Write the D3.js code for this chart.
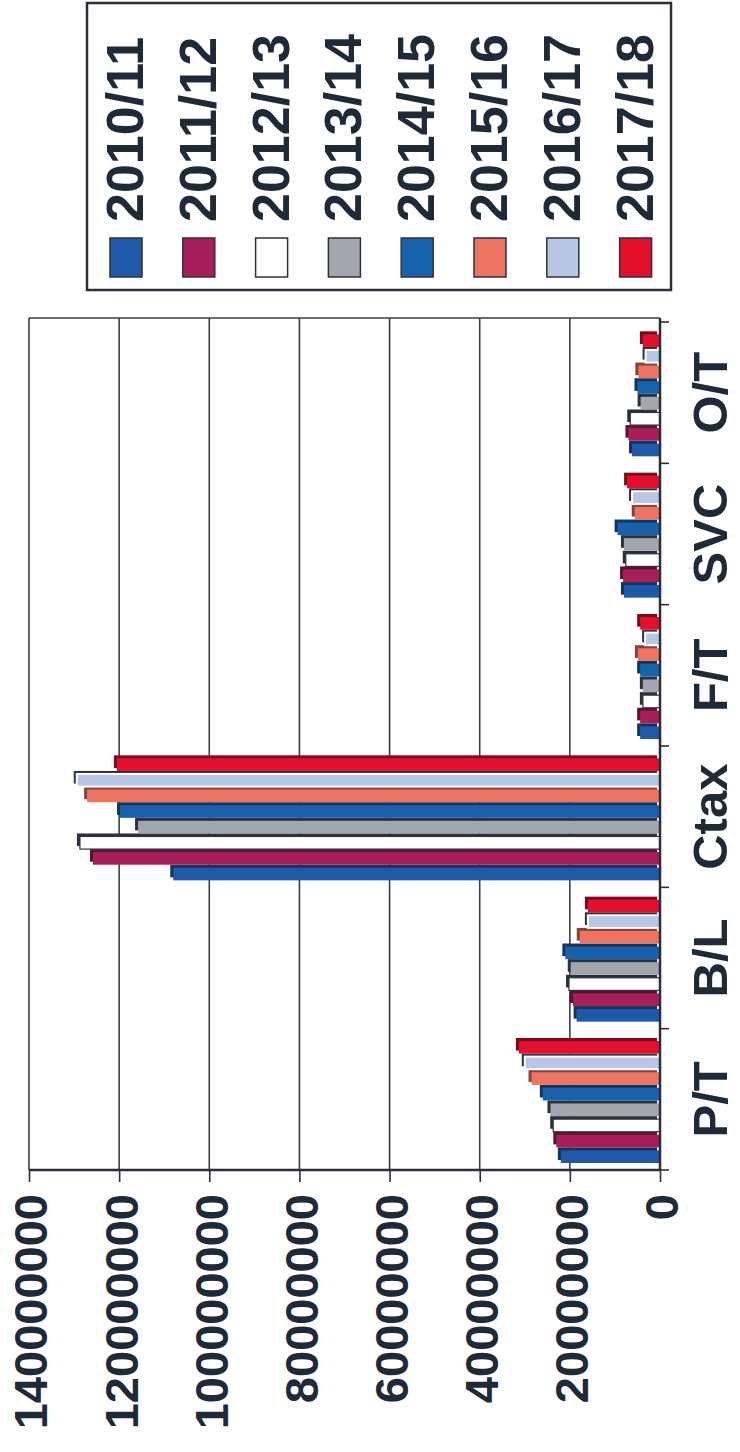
<!DOCTYPE html>
<html lang="en">
  <head>
    <meta charset="utf-8">
    <script src="https://d3js.org/d3.v7.min.js"></script>
    <style>
      body { margin: 0; background: #fff; }
      text { font-family: "Liberation Sans", Arial, sans-serif; font-weight: bold; fill: #1f2a38; }
    </style>
  </head>
  <body>
    <svg id="chart" width="740" height="1452"></svg>
    <script>
      // categories and years
      var cats = ["P/T", "B/L", "Ctax", "F/T", "SVC", "O/T"];
      var years = ["2010/11", "2011/12", "2012/13", "2013/14", "2014/15", "2015/16", "2016/17", "2017/18"];
      var colors = ["#1f5aa8", "#a61f58", "#ffffff", "#a3a6ad", "#1862ab", "#ee7462", "#b8c6e6", "#e2102c"];
      var ticks = [0, 20000000, 40000000, 60000000, 80000000, 100000000, 120000000, 140000000];

      // values per year, same order as cats
      var v1011 = [22000000, 18500000, 108000000, 4400000, 8000000, 6200000];
      var v1112 = [23000000, 19300000, 125800000, 4400000, 8200000, 7000000];
      var v1213 = [23700000, 20200000, 128700000, 3800000, 7600000, 6600000];
      var v1314 = [24300000, 19800000, 115800000, 3800000, 8000000, 4300000];
      var v1415 = [26000000, 21000000, 119800000, 4400000, 9400000, 5000000];
      var v1516 = [28500000, 17800000, 127100000, 4900000, 5600000, 4800000];
      var v1617 = [30000000, 16000000, 129400000, 3300000, 6200000, 3200000];
      var v1718 = [31300000, 16000000, 120500000, 4400000, 7300000, 3800000];
      var series = [v1011, v1112, v1213, v1314, v1415, v1516, v1617, v1718];

      var svg = d3.select("#chart");
      // the whole chart is drawn upright then turned a quarter to the left
      var g = svg.append("g").attr("transform", "translate(0,1452) rotate(-90)");

      var x0 = d3.scaleBand().domain(cats).range([282, 1130]);
      var x1 = d3.scaleBand().domain(years).range([7, 132]);
      var y = d3.scaleLinear().domain([0, 140000000]).range([660, 29]);

      // grid
      g.selectAll("line.grid").data(ticks).enter().append("line")
        .attr("class", "grid")
        .attr("x1", 282).attr("x2", 1134)
        .attr("y1", function(d) { return y(d); }).attr("y2", function(d) { return y(d); })
        .attr("stroke", "#3a3f47").attr("stroke-width", 1.6);
      // top frame
      g.append("line").attr("x1", 1134).attr("x2", 1134).attr("y1", y(140000000)).attr("y2", y(0))
        .attr("stroke", "#3a3f47").attr("stroke-width", 1.6);

      // bars
      var groups = g.selectAll("g.cat").data(cats).enter().append("g")
        .attr("class", "cat")
        .attr("transform", function(d) { return "translate(" + x0(d) + ",0)"; });

      var bw = x1.bandwidth() - 3;
      groups.selectAll("g.bar")
        .data(function(c, ci) { return years.map(function(yr, i) { return { yr: yr, i: i, v: series[i][ci] }; }); })
        .enter().append("g").attr("class", "bar")
        .each(function(d) {
          var b = d3.select(this);
          var col = colors[d.i];
          var sh = (d.i === 2 || d.i === 3 || d.i === 6) ? "#2c323d" : d3.color(col).darker(1.6).toString();
          b.append("rect")
            .attr("x", x1(d.yr) + 3).attr("y", y(d.v) - 3)
            .attr("width", bw).attr("height", y(0) - y(d.v))
            .attr("fill", sh);
          b.append("rect")
            .attr("x", x1(d.yr)).attr("y", y(d.v))
            .attr("width", bw).attr("height", y(0) - y(d.v))
            .attr("fill", col)
            .attr("stroke", d.i === 2 ? "#2c323d" : (d.i === 6 ? "#ffffff" : "none"))
            .attr("stroke-width", d.i === 2 ? 1.2 : 2);
        });

      // axes lines
      g.append("line").attr("x1", 282).attr("x2", 1134).attr("y1", y(0)).attr("y2", y(0))
        .attr("stroke", "#2a2f38").attr("stroke-width", 2.5);
      g.append("line").attr("x1", 282).attr("x2", 282).attr("y1", y(140000000)).attr("y2", y(0))
        .attr("stroke", "#2a2f38").attr("stroke-width", 2.5);

      // value axis
      var yAxis = d3.axisLeft(y).tickValues(ticks).tickSize(12).tickFormat(d3.format("d"));
      var ya = g.append("g").attr("transform", "translate(282,0)").call(yAxis);
      ya.select(".domain").remove();
      ya.selectAll(".tick line").attr("stroke", "#2a2f38").attr("stroke-width", 1.6);
      ya.selectAll(".tick text").attr("x", -24).attr("dy", "0.38em")
        .style("font-size", "47px").style("font-family", "'Liberation Sans', Arial, sans-serif")
        .style("font-weight", "bold").attr("fill", "#1f2a38");

      // category ticks
      var cb = cats.map(function(c) { return x0(c); }).concat([1130]);
      g.selectAll("line.ct").data(cb).enter().append("line")
        .attr("x1", function(d) { return d; }).attr("x2", function(d) { return d; })
        .attr("y1", y(0)).attr("y2", y(0) + 9)
        .attr("stroke", "#2a2f38").attr("stroke-width", 1.6);

      // category labels
      g.selectAll("text.cat").data(cats).enter().append("text")
        .attr("class", "cat")
        .attr("x", function(d) { return x0(d) + x0.bandwidth() / 2; })
        .attr("y", 727)
        .attr("text-anchor", "middle")
        .style("font-size", "49px")
        .text(function(d) { return d; });

      // legend
      var lg = g.append("g");
      lg.append("rect").attr("x", 1162).attr("y", 87).attr("width", 287).attr("height", 584)
        .attr("fill", "#fff").attr("stroke", "#2a2f38").attr("stroke-width", 2.5);
      var le = lg.selectAll("g.le").data(years).enter().append("g")
        .attr("transform", function(d, i) { return "translate(0," + (126 + i * 72.8) + ")"; });
      le.append("rect").attr("x", 1175).attr("y", -16).attr("width", 39).attr("height", 32)
        .attr("fill", function(d, i) { return colors[i]; })
        .attr("stroke", "#2c323d").attr("stroke-width", 1.5);
      le.append("text").attr("x", 1230).attr("y", 17)
        .style("font-size", "52px")
        .text(function(d) { return d; });
    </script>
  </body>
</html>
